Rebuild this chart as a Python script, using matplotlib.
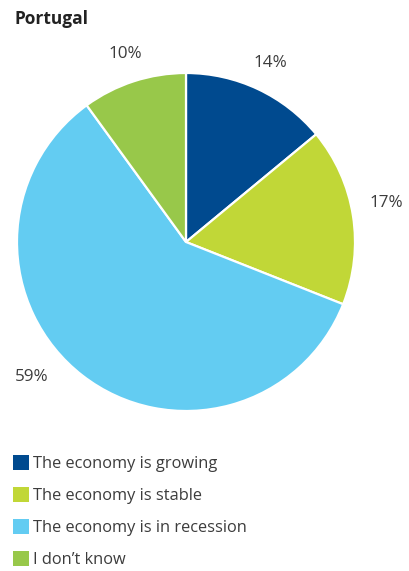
import matplotlib.pyplot as plt
import numpy as np

plt.rcParams['font.family'] = ['Open Sans', 'DejaVu Sans']

title = "Portugal"
categories = [
    "The economy is growing",
    "The economy is stable",
    "The economy is in recession",
    "I don\u2019t know",
]
shares = [14, 17, 59, 10]
colors = ["#004a8f", "#c1d737", "#63ccf2", "#98c84a"]
text_color = "#3c3c3c"

W, H = 409, 571
fig = plt.figure(figsize=(W / 100, H / 100), dpi=100)
ax = fig.add_axes([0, 0, 1, 1])
ax.set_xlim(0, W)
ax.set_ylim(0, H)
ax.set_aspect("equal")

center = (186, H - 242)
radius = 169
wedges, _ = ax.pie(
    shares,
    colors=colors,
    startangle=90,
    counterclock=False,
    center=center,
    radius=radius,
    wedgeprops=dict(edgecolor="white", linewidth=1.6),
    frame=True,
)
ax.axis("off")

# percentage labels just outside each wedge
label_dist = [1.17, 1.21, 1.21, 1.17]
angle_shift = [0, 2, -11, 0]
for w, val, d, s in zip(wedges, shares, label_dist, angle_shift):
    mid = np.deg2rad((w.theta1 + w.theta2) / 2 + s)
    x = center[0] + np.cos(mid) * radius * d
    y = center[1] + np.sin(mid) * radius * d
    ax.text(x, y, f"{val}%", ha="center", va="center",
            fontsize=12.3, color=text_color)

fig.text(14 / W, 1 - 19 / H, title, fontsize=12.5, fontweight="bold",
         color="#222222", ha="left", va="center")

fig.legend(
    wedges, categories,
    loc="upper left",
    bbox_to_anchor=(13 / W, 1 - 455 / H),
    frameon=False,
    fontsize=11.8,
    labelcolor=text_color,
    handlelength=1.0,
    handleheight=1.0,
    handletextpad=0.25,
    labelspacing=0.92,
    borderpad=0,
    borderaxespad=0,
)
for h in fig.legends[0].legend_handles:
    h.set_edgecolor("none")

fig.savefig("out.png", dpi=100)
